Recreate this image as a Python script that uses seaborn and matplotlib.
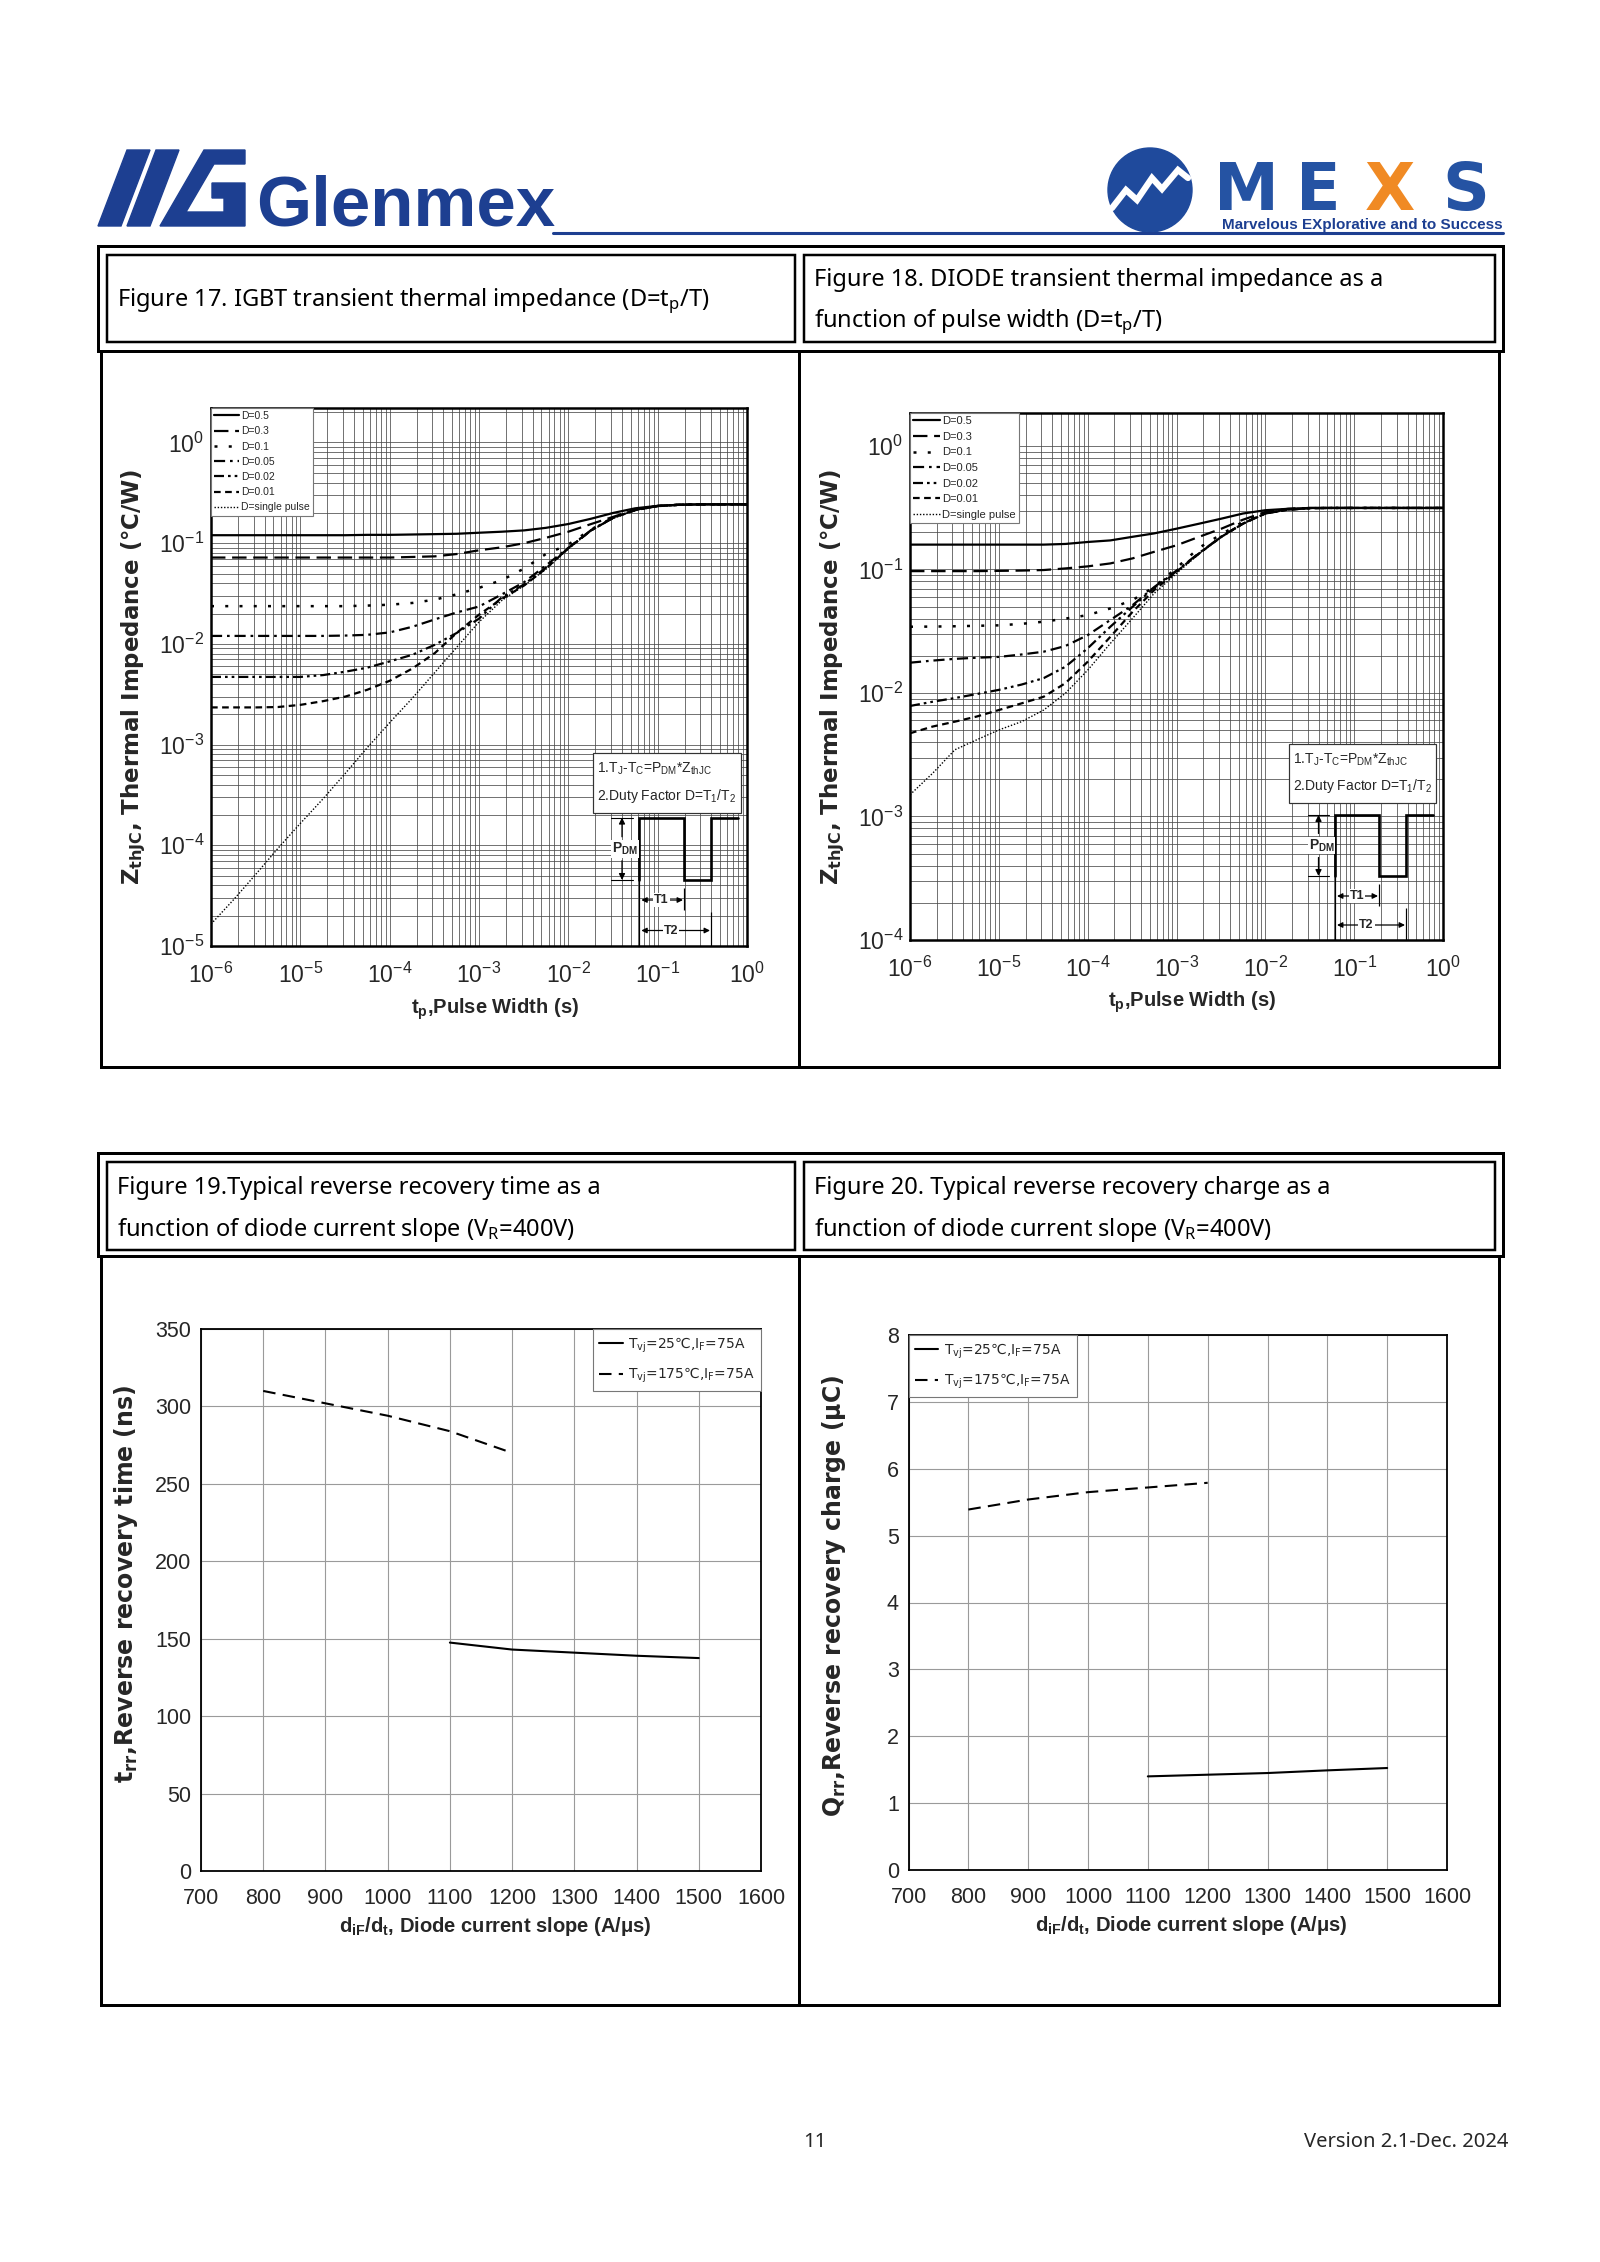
import matplotlib
matplotlib.use("Agg")
import matplotlib.pyplot as plt
import seaborn as sns
from matplotlib import font_manager
from matplotlib.patches import Rectangle, Polygon, Circle
from matplotlib.ticker import LogLocator, NullFormatter, MultipleLocator

# ---------------- data ----------------
# pulse width (s), quarter decades from 1 us to 1 s
tp = [1e-6, 1.8e-6, 3.2e-6, 5.6e-6, 1e-5, 1.8e-5, 3.2e-5, 5.6e-5,
      1e-4, 1.8e-4, 3.2e-4, 5.6e-4, 1e-3, 1.8e-3, 3.2e-3, 5.6e-3,
      1e-2, 1.8e-2, 3.2e-2, 5.6e-2, 0.1, 0.18, 0.32, 0.56, 1.0]
duty_labels = ["D=0.5", "D=0.3", "D=0.1", "D=0.05", "D=0.02", "D=0.01", "D=single pulse"]

# Figure 17: IGBT ZthJC (C/W)
igbt_d05 = [0.120, 0.120, 0.120, 0.120, 0.120, 0.120, 0.120, 0.121, 0.121, 0.122, 0.123, 0.124, 0.127,
            0.130, 0.134, 0.142, 0.155, 0.175, 0.200, 0.222, 0.235, 0.241, 0.243, 0.243, 0.243]
igbt_d03 = [0.072, 0.072, 0.072, 0.072, 0.072, 0.072, 0.072, 0.072, 0.072, 0.073, 0.074, 0.078, 0.085,
            0.091, 0.100, 0.113, 0.130, 0.155, 0.183, 0.215, 0.234, 0.241, 0.243, 0.243, 0.243]
igbt_d01 = [0.0237, 0.0237, 0.0237, 0.0237, 0.0237, 0.0237, 0.0237, 0.0240, 0.0245, 0.0255, 0.0275, 0.031,
            0.036, 0.043, 0.056, 0.078, 0.097, 0.137, 0.180, 0.214, 0.234, 0.241, 0.243, 0.243, 0.243]
igbt_d005 = [0.0120, 0.0120, 0.0120, 0.0120, 0.0120, 0.0120, 0.0121, 0.0123, 0.0130, 0.0148, 0.0175, 0.0205,
             0.0235, 0.031, 0.041, 0.060, 0.090, 0.135, 0.180, 0.214, 0.234, 0.241, 0.243, 0.243, 0.243]
igbt_d002 = [0.0047, 0.0047, 0.0047, 0.0047, 0.0047, 0.0049, 0.0053, 0.0058, 0.0067, 0.0078, 0.0098, 0.0128,
             0.0178, 0.029, 0.039, 0.057, 0.089, 0.134, 0.179, 0.213, 0.234, 0.241, 0.243, 0.243, 0.243]
igbt_d001 = [0.00234, 0.00234, 0.00234, 0.00236, 0.00248, 0.0027, 0.0030, 0.0035, 0.0043, 0.0057, 0.0081, 0.0128,
             0.0195, 0.028, 0.038, 0.056, 0.089, 0.134, 0.179, 0.213, 0.234, 0.241, 0.243, 0.243, 0.243]
igbt_single = [1.65e-5, 2.9e-5, 5.2e-5, 9.3e-5, 1.65e-4, 2.9e-4, 5.2e-4, 9.3e-4, 1.65e-3, 2.9e-3, 5.2e-3, 0.0092,
               0.0165, 0.027, 0.038, 0.055, 0.088, 0.133, 0.178, 0.212, 0.234, 0.241, 0.243, 0.243, 0.243]

# Figure 18: DIODE ZthJC (C/W)
diode_d05 = [0.159, 0.159, 0.159, 0.159, 0.159, 0.159, 0.159, 0.161, 0.167, 0.172, 0.184, 0.196, 0.214,
             0.235, 0.258, 0.284, 0.302, 0.310, 0.315, 0.315, 0.315, 0.315, 0.315, 0.315, 0.315]
diode_d03 = [0.097, 0.097, 0.097, 0.097, 0.0975, 0.098, 0.099, 0.102, 0.106, 0.112, 0.123, 0.139, 0.157,
             0.184, 0.214, 0.253, 0.292, 0.310, 0.315, 0.315, 0.315, 0.315, 0.315, 0.315, 0.315]
diode_d01 = [0.0344, 0.0345, 0.0347, 0.0350, 0.0353, 0.0363, 0.0378, 0.0400, 0.0427, 0.0484, 0.0566, 0.072,
             0.103, 0.150, 0.193, 0.243, 0.288, 0.308, 0.314, 0.315, 0.315, 0.315, 0.315, 0.315, 0.315]
diode_d005 = [0.0176, 0.0183, 0.0189, 0.0193, 0.0196, 0.0205, 0.0216, 0.0240, 0.0294, 0.039, 0.0514, 0.072,
              0.098, 0.136, 0.185, 0.236, 0.285, 0.305, 0.314, 0.315, 0.315, 0.315, 0.315, 0.315, 0.315]
diode_d002 = [0.00785, 0.0085, 0.0091, 0.0098, 0.0106, 0.0117, 0.0132, 0.0163, 0.023, 0.0344, 0.0499, 0.071,
              0.097, 0.135, 0.184, 0.235, 0.284, 0.305, 0.314, 0.315, 0.315, 0.315, 0.315, 0.315, 0.315]
diode_d001 = [0.00472, 0.00535, 0.00586, 0.00644, 0.00728, 0.00824, 0.00933, 0.0120, 0.0179, 0.0285, 0.0454,
              0.068, 0.096, 0.135, 0.184, 0.235, 0.284, 0.305, 0.314, 0.315, 0.315, 0.315, 0.315, 0.315, 0.315]
diode_single = [0.0015, 0.00224, 0.00347, 0.00417, 0.00502, 0.00586, 0.00728, 0.00993, 0.0153, 0.0252, 0.0402,
                0.064, 0.093, 0.134, 0.183, 0.234, 0.283, 0.305, 0.314, 0.315, 0.315, 0.315, 0.315, 0.315, 0.315]

# Figures 19/20: diode current slope (A/us)
slope_175 = [800, 900, 1000, 1100, 1200]
slope_25 = [1100, 1200, 1300, 1400, 1500]
trr_175 = [310, 302, 294, 284, 270]
trr_25 = [147.5, 143, 141, 139, 137.5]
qrr_175 = [5.39, 5.54, 5.65, 5.72, 5.79]
qrr_25 = [1.40, 1.425, 1.45, 1.49, 1.525]
temp_labels = [r"$\mathregular{T_{vj}}$=25℃,$\mathregular{I_F}$=75A",
               r"$\mathregular{T_{vj}}$=175℃,$\mathregular{I_F}$=75A"]

# ---------------- style ----------------
sns.set_theme(style="white")
names = {f.name for f in font_manager.fontManager.ttflist}
NARROW = "Liberation Sans Narrow" if "Liberation Sans Narrow" in names else "Liberation Sans"
plt.rcParams["font.family"] = [NARROW, "DejaVu Sans"]
plt.rcParams["axes.unicode_minus"] = False

BLUE = "#1d3f91"
PX = 0.72  # points per pixel at dpi 100

duty_styles = ["-", (0, (6.5, 3)), (0, (1.2, 4.5)), (0, (5, 2.2, 1.2, 2.2)),
               (0, (4.5, 1.8, 1.2, 1.8, 1.2, 1.8)), (0, (3, 2)), (0, (1, 1.3))]
duty_widths = [1.6, 1.6, 1.8, 1.6, 1.6, 1.6, 1.0]

fig = plt.figure(figsize=(16, 22.62), dpi=100)


def zth_plot(ax, curves, ylo, yhi, ylab_x, leg_fs):
    ax.set(xscale="log", yscale="log")
    for vals, lab, ls, lw in zip(curves, duty_labels, duty_styles, duty_widths):
        sns.lineplot(x=tp, y=vals, ax=ax, color="black", lw=lw, linestyle=ls,
                     label=lab, errorbar=None)
    ax.set_xlim(1e-6, 1)
    ax.set_ylim(ylo, yhi)
    for axis in (ax.xaxis, ax.yaxis):
        axis.set_major_locator(LogLocator(base=10, numticks=20))
        axis.set_minor_locator(LogLocator(base=10, subs=range(2, 10), numticks=100))
        axis.set_minor_formatter(NullFormatter())
    ax.grid(True, which="both", color="#4a4a4a", lw=0.55)
    ax.tick_params(which="both", length=0, labelsize=16.5)
    ax.tick_params(axis="x", pad=12)
    ax.tick_params(axis="y", pad=5)
    for s in ax.spines.values():
        s.set_color("black")
        s.set_linewidth(1.8)
    ax.set_xlabel(r"$\mathregular{t_p}$,Pulse Width (s)", fontsize=14.5, fontweight="bold")
    ax.xaxis.set_label_coords(0.53, -0.094)
    ax.set_ylabel(r"$\mathregular{Z_{thJC}}$, Thermal Impedance (℃/W)", fontsize=16.5,
                  fontweight="bold", family="DejaVu Sans")
    ax.yaxis.set_label_coords(ylab_x, 0.5)
    leg = ax.legend(loc="upper left", bbox_to_anchor=(0, 1), borderaxespad=0, fontsize=leg_fs,
                    handlelength=2.4, handletextpad=0.15, labelspacing=0.5, borderpad=0.3,
                    fancybox=False, framealpha=1, edgecolor="#777777")
    leg.get_frame().set_linewidth(0.8)


def rec_plot(ax, y175, y25, ymax, ystep, ylabel, ylab_x, ylab_y, leg_loc):
    sns.lineplot(x=slope_25, y=y25, ax=ax, color="black", lw=1.5, label=temp_labels[0], errorbar=None)
    sns.lineplot(x=slope_175, y=y175, ax=ax, color="black", lw=1.5, linestyle=(0, (6, 3.5)),
                 label=temp_labels[1], errorbar=None)
    ax.set_xlim(700, 1600)
    ax.set_ylim(0, ymax)
    ax.xaxis.set_major_locator(MultipleLocator(100))
    ax.yaxis.set_major_locator(MultipleLocator(ystep))
    ax.grid(True, color="#9a9a9a", lw=0.8)
    ax.tick_params(length=0, labelsize=15.5)
    ax.tick_params(axis="x", pad=12)
    ax.tick_params(axis="y", pad=7)
    for s in ax.spines.values():
        s.set_color("black")
        s.set_linewidth(1.3)
    ax.set_xlabel(r"$\mathregular{d_{iF}/d_t}$, Diode current slope (A/μs)", fontsize=14.5, fontweight="bold")
    ax.xaxis.set_label_coords(0.525, -0.082)
    ax.set_ylabel(ylabel, fontsize=17, fontweight="bold", family="DejaVu Sans")
    ax.yaxis.set_label_coords(ylab_x, ylab_y)
    anchor = (1, 1) if leg_loc == "upper right" else (0, 1)
    leg = ax.legend(loc=leg_loc, bbox_to_anchor=anchor, borderaxespad=0,
                    prop={"family": "DejaVu Sans", "size": 10},
                    handlelength=1.7, handletextpad=0.4, labelspacing=0.8, borderpad=0.45,
                    fancybox=False, framealpha=1, edgecolor="#777777")
    leg.get_frame().set_linewidth(0.8)


ax17 = fig.add_axes([211 / 1600, 1 - 946 / 2262, 536 / 1600, 538 / 2262])
zth_plot(ax17, [igbt_d05, igbt_d03, igbt_d01, igbt_d005, igbt_d002, igbt_d001, igbt_single],
         1e-5, 2.2, -0.118, 7.5)

ax18 = fig.add_axes([910 / 1600, 1 - 940 / 2262, 533 / 1600, 527 / 2262])
zth_plot(ax18, [diode_d05, diode_d03, diode_d01, diode_d005, diode_d002, diode_d001, diode_single],
         1e-4, 1.85, -0.118, 8)

ax19 = fig.add_axes([201 / 1600, 1 - 1871 / 2262, 560 / 1600, 542 / 2262])
rec_plot(ax19, trr_175, trr_25, 350, 50, r"$\mathregular{t_{rr}}$,Reverse recovery time (ns)",
         -0.109, 0.53, "upper right")

ax20 = fig.add_axes([908.5 / 1600, 1 - 1870 / 2262, 538.5 / 1600, 535 / 2262])
rec_plot(ax20, qrr_175, qrr_25, 8, 1, r"$\mathregular{Q_{rr}}$,Reverse recovery charge (μC)",
         -0.112, 0.512, "upper left")

# ---------------- page furniture ----------------
page = fig.add_axes([0, 0, 1, 1], zorder=10)
page.set_xlim(0, 1600)
page.set_ylim(2262, 0)
page.axis("off")


def box(x0, y0, x1, y1, lw_px=3, fc="none", ec="black"):
    page.add_patch(Rectangle((x0, y0), x1 - x0, y1 - y0, fc=fc, ec=ec, lw=lw_px * PX))


def vline(x, y0, y1, lw_px=3, color="black"):
    page.plot([x, x], [y0, y1], color=color, lw=lw_px * PX, solid_capstyle="butt")


# logos
page.add_patch(Polygon([(98, 226), (121, 226), (150, 150), (127, 150)], color=BLUE))
page.add_patch(Polygon([(127, 226), (150, 226), (179, 150), (156, 150)], color=BLUE))
page.add_patch(Polygon([(160, 226), (245, 226), (245, 183), (212, 183), (212, 198), (224, 198),
                        (224, 212), (186, 212), (214, 164), (245, 164), (245, 150), (204, 150)], color=BLUE))
page.text(256, 226, "Glenmex", fontsize=51, fontweight="bold", color=BLUE, family="Liberation Sans",
          ha="left", va="baseline")
page.plot([553, 1503], [233, 233], color=BLUE, lw=2.2)
page.add_patch(Circle((1150, 190), 42, color="#1f4a9c"))
page.plot([1112, 1126, 1137, 1152, 1162, 1178, 1188], [208, 190, 200, 178, 189, 170, 178],
          color="white", lw=4.5, solid_joinstyle="miter")
for letter, xc, col in [("M", 1246, "#2553a3"), ("E", 1318, "#2553a3"),
                        ("X", 1390, "#f08a24"), ("S", 1466, "#2553a3")]:
    page.text(xc, 210, letter, fontsize=47, fontweight="bold", color=col, family="DejaVu Sans",
              ha="center", va="baseline")
page.text(1503, 229, "Marvelous EXplorative and to Success", fontsize=11, fontweight="bold",
          color=BLUE, family="Liberation Sans", ha="right", va="baseline")

# table frames
for top, bot, inner_top, inner_bot, cont_bot in [(246, 351, 255, 342, 1067), (1153, 1256, 1162, 1250, 2005)]:
    box(98, top, 1503, bot, 3)
    box(107, inner_top, 795, inner_bot, 2.5)
    box(804, inner_top, 1495, inner_bot, 2.5)
    box(101, bot, 1499, cont_bot, 3)
    vline(799, bot, cont_bot, 3)

hdr = dict(fontsize=17, family="Noto Sans", color="black", ha="left", va="center")
page.text(117, 301, r"Figure 17. IGBT transient thermal impedance (D=$\mathregular{t_p}$/T)", **hdr)
page.text(814, 280, "Figure 18. DIODE transient thermal impedance as a", **hdr)
page.text(814, 322, r"function of pulse width (D=$\mathregular{t_p}$/T)", **hdr)
page.text(117, 1188, "Figure 19.Typical reverse recovery time as a", **hdr)
page.text(117, 1230, r"function of diode current slope ($\mathregular{V_R}$=400V)", **hdr)
page.text(814, 1188, "Figure 20. Typical reverse recovery charge as a", **hdr)
page.text(814, 1230, r"function of diode current slope ($\mathregular{V_R}$=400V)", **hdr)


# pulse schematic boxes inside figures 17 / 18
def pulse_note(bx0, by0, bx1, by1, x1, x2, x3, x4, ytop, ybot, tick_x0, tick_x1, y_t1, y_t2, y_axis):
    box(bx0, by0, bx1, by1, 1.2, fc="white", ec="#333333")
    page.text(bx0 + 4, by0 + (by1 - by0) * 0.27,
              r"1.$\mathregular{T_J}$-$\mathregular{T_C}$=$\mathregular{P_{DM}}$*$\mathregular{Z_{thJC}}$",
              fontsize=10, ha="left", va="center")
    page.text(bx0 + 4, by0 + (by1 - by0) * 0.72, r"2.Duty Factor D=$\mathregular{T_1/T_2}$",
              fontsize=10, ha="left", va="center")
    page.plot([x1, x1, x2, x2, x3, x3, x4], [ybot, ytop, ytop, ybot, ybot, ytop, ytop],
              color="black", lw=2.2 * PX * 1.2, solid_joinstyle="miter")
    page.plot([tick_x0, tick_x1], [ytop, ytop], color="black", lw=0.8)
    page.plot([tick_x0, tick_x1], [ybot, ybot], color="black", lw=0.8)
    xm = (tick_x0 + tick_x1) / 2
    ym = (ytop + ybot) / 2
    arr = dict(arrowstyle="-|>", color="black", lw=0.9, mutation_scale=9, shrinkA=0, shrinkB=0)
    page.annotate("", xy=(xm, ytop), xytext=(xm, ym - 12), arrowprops=arr)
    page.annotate("", xy=(xm, ybot), xytext=(xm, ym + 12), arrowprops=arr)
    page.text(xm + 3, ym, r"$\mathregular{P_{DM}}$", fontsize=10, fontweight="bold", ha="center",
              va="center", bbox=dict(fc="white", ec="none", pad=0.5))
    vline(x1, ybot, y_axis, 1.2)
    vline(x2, ybot + 8, y_t1 + 10, 1.2)
    vline(x3, y_t1 + 12, y_axis, 1.2)
    darr = dict(arrowstyle="<|-|>", color="black", lw=0.9, mutation_scale=8, shrinkA=0, shrinkB=0)
    page.annotate("", xy=(x1 + 2, y_t1), xytext=(x2 - 1, y_t1), arrowprops=darr)
    page.annotate("", xy=(x1 + 2, y_t2), xytext=(x3 - 1, y_t2), arrowprops=darr)
    page.text((x1 + x2) / 2, y_t1, "T1", fontsize=9, fontweight="bold", ha="center", va="center",
              bbox=dict(fc="white", ec="none", pad=0.6))
    page.text((x1 + x3) / 2 - 4, y_t2, "T2", fontsize=9, fontweight="bold", ha="center", va="center",
              bbox=dict(fc="white", ec="none", pad=0.6))


pulse_note(593, 753, 741, 813, 639.3, 684, 711, 738, 817.6, 880, 611, 633, 900, 930.5, 946)
pulse_note(1289, 744, 1436, 803, 1335, 1379, 1406, 1433, 815, 876, 1308, 1329, 896, 925, 940)

# footer
page.text(815, 2142, "11", fontsize=14.5, family="Noto Sans", ha="center", va="center")
page.text(1508, 2142, "Version 2.1-Dec. 2024", fontsize=14.5, family="Noto Sans", ha="right", va="center")

fig.savefig("out.png", dpi=100)
